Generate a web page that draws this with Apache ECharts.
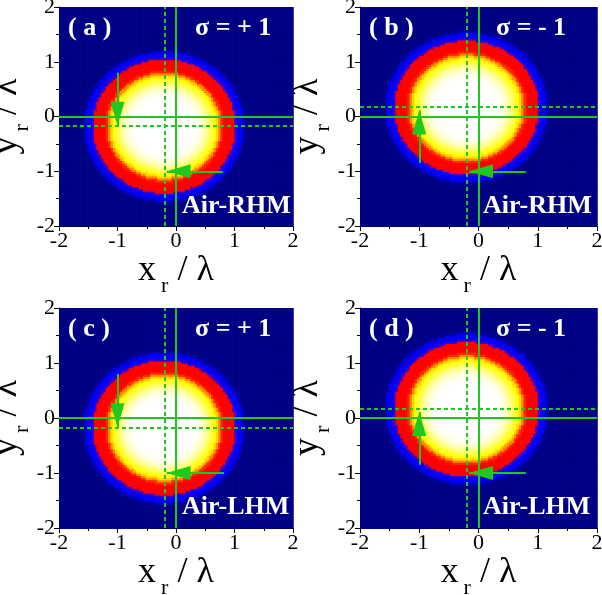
<!DOCTYPE html>
<html>
<head>
<meta charset="utf-8">
<script src="https://cdn.jsdelivr.net/npm/echarts@6/dist/echarts.min.js"></script>
<style>
html, body { margin: 0; padding: 0; background: #fff; }
#main { width: 602px; height: 595px; }
</style>
</head>
<body>
<div id="main"></div>
<script>
// 四个子图的文字
var panelLabels = ['( a )', '( b )', '( c )', '( d )'];
var sigmaLabels = ['σ = + 1', 'σ = - 1', 'σ = + 1', 'σ = - 1'];
var mediumLabels = ['Air-RHM', 'Air-RHM', 'Air-LHM', 'Air-LHM'];
var tickValues = [-2, -1, 0, 1, 2];

// 光斑中心 (虚线位置)
var beamCenterX = [-0.2, -0.2, -0.2, -0.2];
var beamCenterY = [-0.17, 0.17, -0.17, 0.17];

// 径向强度分布 (半径步长 0.04, 从图上读取)
var profileR = [0, 0.04, 0.08, 0.12, 0.16, 0.2, 0.24, 0.28, 0.32, 0.36, 0.4, 0.44, 0.48, 0.52,
    0.56, 0.6, 0.64, 0.68, 0.72, 0.76, 0.8, 0.84, 0.88, 0.92, 0.96, 1.0, 1.04, 1.08, 1.12,
    1.16, 1.2, 1.24, 1.28, 1.32, 1.36, 1.4, 1.44];
var profileI = [1, 1, 1, 1, 1, 1, 1, 1, 1, 1, 1, 1, 0.995, 0.985,
    0.97, 0.94, 0.91, 0.87, 0.83, 0.79, 0.74, 0.7, 0.66, 0.61, 0.53, 0.42, 0.36, 0.32, 0.29,
    0.26, 0.21, 0.16, 0.13, 0.1, 0.05, 0.01, 0];

// 箭头 (竖直箭头 x, 起点 y, 终点 y; 水平箭头 y, 起点 x, 终点 x)
var vArrowX = [-1, -1, -1, -1];
var vArrowFromY = [0.8, -0.85, 0.8, -0.85];
var vArrowToY = [-0.17, 0.11, -0.17, 0.11];
var hArrowY = [-1, -1, -1, -1];
var hArrowFromX = [0.8, 0.8, 0.82, 0.8];
var hArrowToX = [-0.16, -0.16, -0.16, -0.16];

// 色标 (每 0.05 一档)
var colorStops = ['#000084', '#0000d0', '#0000ff', '#0000ff', '#ff0000', '#ff0000', '#ff0000',
    '#ff0000', '#ff1800', '#ff4000', '#ff7000', '#ffa000', '#ffd000', '#ffff00', '#ffff30',
    '#ffff60', '#ffff90', '#ffffb8', '#ffffd8', '#fffff0', '#ffffff'];

// 布局
var gridLeft = [59, 360, 59, 360];
var gridTop = [7, 7, 308, 308];
var gridWidth = [234, 237, 234, 237];
var gridHeight = [219, 219, 220, 220];

var GREEN = '#1ec81e';
var FONT = '"Liberation Serif", "Times New Roman", serif';
var N = 100;
var CELL = 4 / N;

function buildField(p) {
    var data = [];
    var step = profileR[1] - profileR[0];
    for (var i = 0; i < N; i++) {
        var x = -2 + (i + 0.5) * CELL;
        for (var j = 0; j < N; j++) {
            var y = -2 + (j + 0.5) * CELL;
            var r = Math.sqrt(Math.pow(x - beamCenterX[p], 2) + Math.pow(y - beamCenterY[p], 2));
            var k = Math.round(r / step);
            var v = k < profileI.length ? profileI[k] : 0;
            data.push([x, y, v]);
        }
    }
    return data;
}

function renderCell(params, api) {
    var x = api.value(0);
    var y = api.value(1);
    var p0 = api.coord([x - CELL / 2, y + CELL / 2]);
    var p1 = api.coord([x + CELL / 2, y - CELL / 2]);
    return {
        type: 'rect',
        shape: {x: p0[0], y: p0[1], width: p1[0] - p0[0] + 0.7, height: p1[1] - p0[1] + 0.7},
        style: {fill: api.visual('color')}
    };
}

var axisNameX = '{m|x}{s|r}{m|/ λ}';
var axisNameY = '{m|y}{s|r}{m|/ λ}';
var nameRich = {
    m: {fontSize: 36, fontFamily: FONT, color: '#000'},
    s: {fontSize: 22, fontFamily: FONT, color: '#000', padding: [30, 9, 0, 5]}
};

var grids = [], xAxes = [], yAxes = [], series = [], graphics = [], fieldIndex = [];

for (var p = 0; p < 4; p++) {
    grids.push({left: gridLeft[p], top: gridTop[p], width: gridWidth[p], height: gridHeight[p],
        containLabel: false, outerBoundsMode: 'none'});

    var valueAxis = {
        gridIndex: p,
        type: 'value',
        min: -2,
        max: 2,
        interval: 1,
        splitLine: {show: false},
        axisLine: {show: true, onZero: false, lineStyle: {color: '#000', width: 1}},
        axisTick: {show: true, length: 5, lineStyle: {color: '#000'}},
        minorTick: {show: true, splitNumber: 2, length: 3, lineStyle: {color: '#000'}},
        axisLabel: {fontSize: 22, fontFamily: FONT, color: '#000', margin: 4},
        nameLocation: 'middle',
        nameTextStyle: {rich: nameRich}
    };
    xAxes.push(Object.assign({}, valueAxis, {position: 'bottom', name: axisNameX, nameGap: 12}));
    yAxes.push(Object.assign({}, valueAxis, {position: 'left', name: axisNameY, nameGap: 9}));

    fieldIndex.push(series.length);
    series.push({
        type: 'custom',
        xAxisIndex: p,
        yAxisIndex: p,
        data: buildField(p),
        encode: {x: 0, y: 1},
        renderItem: renderCell,
        clip: true,
        silent: true,
        z: 1
    });

    series.push({
        type: 'line',
        xAxisIndex: p,
        yAxisIndex: p,
        data: [],
        silent: true,
        z: 5,
        markLine: {
            silent: true,
            symbol: ['none', 'none'],
            label: {show: false},
            lineStyle: {color: GREEN, width: 2, type: 'solid'},
            data: [
                {xAxis: 0},
                {yAxis: 0},
                {xAxis: beamCenterX[p], lineStyle: {type: [4, 3], width: 2}},
                {yAxis: beamCenterY[p], lineStyle: {type: [4, 3], width: 2}},
                [
                    {coord: [vArrowX[p], vArrowFromY[p]]},
                    {coord: [vArrowX[p], vArrowToY[p]], symbol: 'triangle', symbolSize: [14, 24], symbolOffset: [0, '50%']}
                ],
                [
                    {coord: [hArrowFromX[p], hArrowY[p]]},
                    {coord: [hArrowToX[p], hArrowY[p]], symbol: 'triangle', symbolSize: [14, 24], symbolOffset: [0, '50%']}
                ]
            ]
        }
    });

    var textStyle = {fill: '#fff', fontFamily: FONT, fontWeight: 'bold', fontSize: 26};
    graphics.push({type: 'text', left: gridLeft[p] + 9, top: gridTop[p] + 8, z: 100,
        style: Object.assign({text: panelLabels[p]}, textStyle)});
    graphics.push({type: 'text', left: gridLeft[p] + 136, top: gridTop[p] + 8, z: 100,
        style: Object.assign({text: sigmaLabels[p]}, textStyle)});
    graphics.push({type: 'text', left: gridLeft[p] + 123, top: gridTop[p] + 186, z: 100,
        style: Object.assign({text: mediumLabels[p]}, textStyle)});
}

var myChart = echarts.init(document.getElementById('main'));
myChart.setOption({
    animation: false,
    backgroundColor: '#fff',
    grid: grids,
    xAxis: xAxes,
    yAxis: yAxes,
    visualMap: {
        type: 'continuous',
        show: false,
        min: 0,
        max: 1,
        dimension: 2,
        seriesIndex: fieldIndex,
        inRange: {color: colorStops}
    },
    graphic: graphics,
    series: series
});
</script>
</body>
</html>
